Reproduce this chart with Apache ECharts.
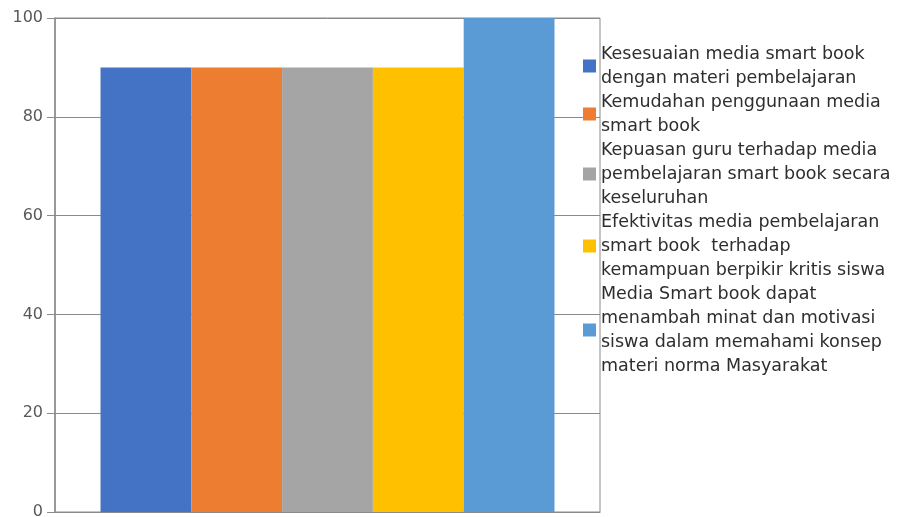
<!DOCTYPE html>
<html>
<head>
<meta charset="utf-8">
<script src="https://cdn.jsdelivr.net/npm/echarts@6/dist/echarts.min.js"></script>
<style>
  html, body { margin: 0; padding: 0; background: #fff; }
  #chart { width: 899px; height: 517px; }
</style>
</head>
<body>
<div id="chart"></div>
<script>
// Single category, one bar per survey statement
const categories = [''];
const seriesNames = [
  'Kesesuaian media smart book\ndengan materi pembelajaran',
  'Kemudahan penggunaan media\nsmart book',
  'Kepuasan guru terhadap media\npembelajaran smart book secara\nkeseluruhan',
  'Efektivitas media pembelajaran\nsmart book  terhadap\nkemampuan berpikir kritis siswa',
  'Media Smart book dapat\nmenambah minat dan motivasi\nsiswa dalam memahami konsep\nmateri norma Masyarakat'
];
const seriesValues = [90, 90, 90, 90, 100];
const seriesColors = ['#4472C4', '#ED7D31', '#A5A5A5', '#FFC000', '#5B9BD5'];
const yTicks = { min: 0, max: 100, interval: 20 };

const chart = echarts.init(document.getElementById('chart'), null, { renderer: 'canvas' });

const series = seriesNames.map((name, i) => ({
  name: name,
  type: 'bar',
  data: [seriesValues[i]],
  barGap: '0%',
  barCategoryGap: '16.7%',
  itemStyle: { color: seriesColors[i] },
  emphasis: { disabled: true }
}));

chart.setOption({
  animation: false,
  backgroundColor: '#ffffff',
  grid: {
    left: 55, right: 299, top: 18, bottom: 5,
    outerBoundsMode: 'none',
    containLabel: false,
    show: true, borderColor: '#8a8a8a', borderWidth: 1
  },
  legend: {
    orient: 'vertical',
    left: 583,
    top: 42,
    padding: 0,
    itemGap: 0,
    itemWidth: 13,
    itemHeight: 13,
    icon: 'rect',
    selectedMode: false,
    textStyle: {
      fontFamily: 'DejaVu Sans',
      fontSize: 17.5,
      lineHeight: 24,
      color: '#2e2e2e'
    },
    data: seriesNames
  },
  xAxis: {
    type: 'category',
    data: categories,
    axisLine: { show: true, lineStyle: { color: '#8a8a8a' } },
    axisTick: { show: false },
    axisLabel: { show: false }
  },
  yAxis: {
    type: 'value',
    min: yTicks.min,
    max: yTicks.max,
    interval: yTicks.interval,
    axisLine: { show: true, lineStyle: { color: '#8a8a8a', width: 1.5 } },
    axisTick: { show: true, length: 8, lineStyle: { color: '#8a8a8a' } },
    splitLine: { show: true, lineStyle: { color: '#8a8a8a', width: 1 } },
    axisLabel: {
      margin: 12,
      fontFamily: 'DejaVu Sans',
      fontSize: 16,
      color: '#595959'
    }
  },
  series: series
});
</script>
</body>
</html>
